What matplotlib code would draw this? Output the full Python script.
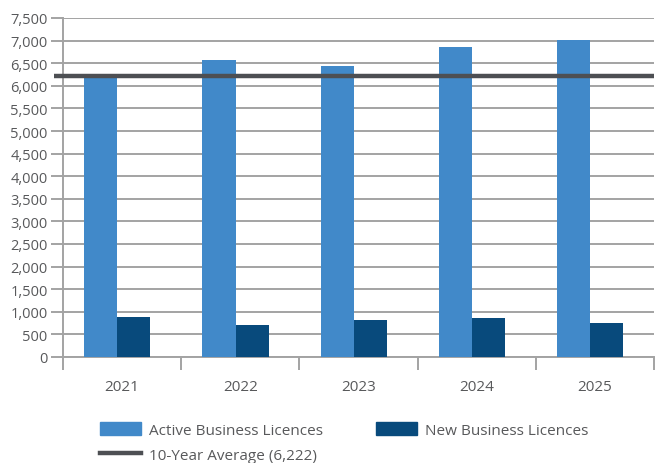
import numpy as np
import matplotlib.pyplot as plt
from matplotlib.patches import Patch
from matplotlib.lines import Line2D

plt.rcParams['font.family'] = ['Open Sans', 'DejaVu Sans']

# ==== DATA ====
years = ["2021", "2022", "2023", "2024", "2025"]
active = [6270, 6570, 6440, 6860, 7010]
new = [885, 708, 818, 863, 752]
avg_10yr = 6222

# ==== STYLE ====
C_ACTIVE = "#4189C9"
C_NEW = "#084A7C"
C_AVG = "#4D4F53"
C_GRID = "#A3A3A3"
C_TEXT = "#58595B"

fig = plt.figure(figsize=(6.55, 4.64), dpi=100)
ax = fig.add_axes([63 / 655, 1 - 358 / 464, 591 / 655, 339 / 464])

x = np.arange(len(years))
w = 0.28
ax.bar(x - 0.18, active, width=w, color=C_ACTIVE, zorder=3)
ax.bar(x + 0.10, new, width=w, color=C_NEW, zorder=3)
ax.plot([-0.58, 4.5], [avg_10yr, avg_10yr], color=C_AVG, lw=3.2,
        zorder=4, clip_on=False, solid_capstyle='butt')

ax.set_xlim(-0.5, 4.5)
ax.set_ylim(0, 7500)
ax.set_yticks(np.arange(0, 7501, 500))
ax.set_yticklabels([f"{v:,}" for v in range(0, 7501, 500)])
ax.yaxis.grid(True, color=C_GRID, lw=1.4, zorder=0)
ax.set_axisbelow(True)

ax.set_xticks(x)
ax.set_xticklabels(years)
ax.set_xticks(np.arange(-0.5, 4.6, 1), minor=True)
ax.tick_params(axis='x', which='major', length=0, pad=16, labelsize=11, labelcolor=C_TEXT)
ax.tick_params(axis='x', which='minor', length=9, width=1.4, color=C_GRID)
ax.tick_params(axis='y', length=9, width=1.4, color=C_GRID, labelsize=10.5,
               labelcolor=C_TEXT, pad=2)

for s in ["top", "right"]:
    ax.spines[s].set_visible(False)
for s in ["left", "bottom"]:
    ax.spines[s].set_color(C_GRID)
    ax.spines[s].set_linewidth(1.4)

handles = [
    Patch(color=C_ACTIVE, label="Active Business Licences"),
    Line2D([], [], color=C_AVG, lw=3.2, label="10-Year Average (6,222)"),
    Patch(color=C_NEW, label="New Business Licences"),
]
fig.legend(handles=handles, ncol=2, loc="upper left",
           bbox_to_anchor=(86 / 655, 1 - 409 / 464), frameon=False,
           fontsize=11, labelcolor=C_TEXT, handlelength=2.7, handleheight=0.95,
           handletextpad=0.5, columnspacing=3.5, labelspacing=0.65)

fig.savefig("out.png", dpi=100)
